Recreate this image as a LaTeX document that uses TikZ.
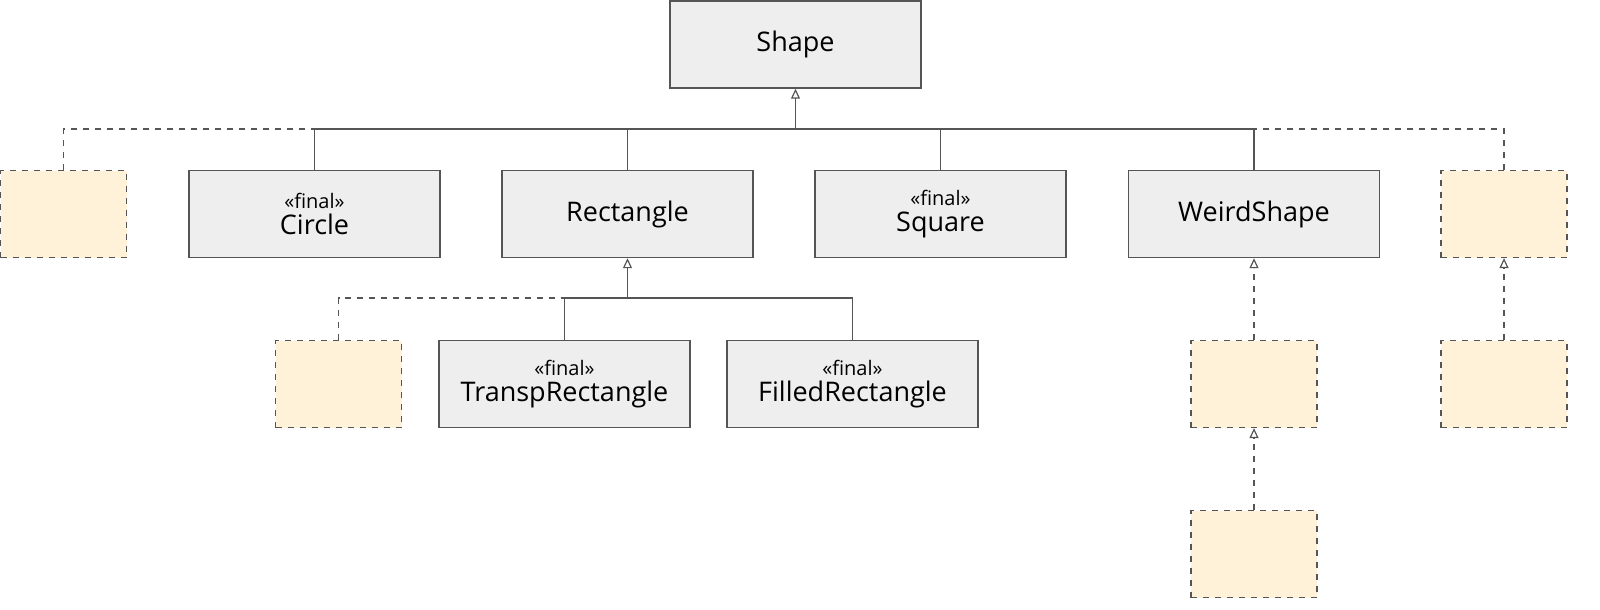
\documentclass[tikz,border=0pt]{standalone}
\usepackage{fontspec}
\setmainfont{Open Sans}
\usetikzlibrary{arrows.meta}
\definecolor{boxfill}{HTML}{EEEEEE}
\definecolor{boxline}{HTML}{555555}
\definecolor{phfill}{HTML}{FFF2D9}
\begin{document}
\begin{tikzpicture}[x=0.5pt,y=-0.5pt,
 cls/.style={draw=boxline,fill=boxfill,line width=0.7pt,minimum width=125.5pt,minimum height=43.5pt,inner sep=0pt,align=center,font=\fontsize{13.5}{15}\selectfont},
 ph/.style={draw=boxline,fill=phfill,dashed,line width=0.6pt,minimum width=63pt,minimum height=43.5pt,inner sep=0pt},
 ln/.style={draw=boxline,line width=0.6pt},
 dl/.style={ln,dashed},
 inh/.style={-{Triangle[open,length=5pt,width=4.5pt]}}]
\node[cls] (shape) at (795.5,44.5) {Shape};
\node[ph] (p1) at (63.5,214) {};
\node[cls] (circle) at (314.5,214) {{\fontsize{10}{11}\selectfont «final»}\\[-2pt]Circle};
\node[cls] (rect) at (627.5,214) {Rectangle};
\node[cls] (square) at (940.5,214) {{\fontsize{10}{11}\selectfont «final»}\\[-2pt]Square};
\node[cls] (weird) at (1254,214) {WeirdShape};
\node[ph] (p2) at (1504,214) {};
\node[ph] (p3) at (338.5,384) {};
\node[cls] (transp) at (564.5,384) {{\fontsize{10}{11}\selectfont «final»}\\[-2pt]TranspRectangle};
\node[cls] (filled) at (852.5,384) {{\fontsize{10}{11}\selectfont «final»}\\[-2pt]FilledRectangle};
\node[ph] (p4) at (1254,384) {};
\node[ph] (p5) at (1504,384) {};
\node[ph] (p6) at (1254,554) {};
\coordinate (b1) at (795.5,129);
\draw[ln] (circle.north) |- (weird.north |- b1) -- (weird.north);
\draw[ln] (rect.north) -- (rect.north |- b1);
\draw[ln] (square.north) -- (square.north |- b1);
\draw[dl] (p1.north) |- (circle.north |- b1);
\draw[dl] (p2.north) |- (weird.north |- b1);
\draw[ln,inh] (b1) -- (shape.south);
\coordinate (b2) at (627.5,298);
\draw[ln] (transp.north) |- (filled.north |- b2) -- (filled.north);
\draw[dl] (p3.north) |- (transp.north |- b2);
\draw[ln,inh] (b2) -- (rect.south);
\draw[dl,inh] (p4.north) -- (weird.south);
\draw[dl,inh] (p5.north) -- (p2.south);
\draw[dl,inh] (p6.north) -- (p4.south);
\pgfresetboundingbox
\path[use as bounding box] (0,0) rectangle (1600,610);
\end{tikzpicture}
\end{document}
